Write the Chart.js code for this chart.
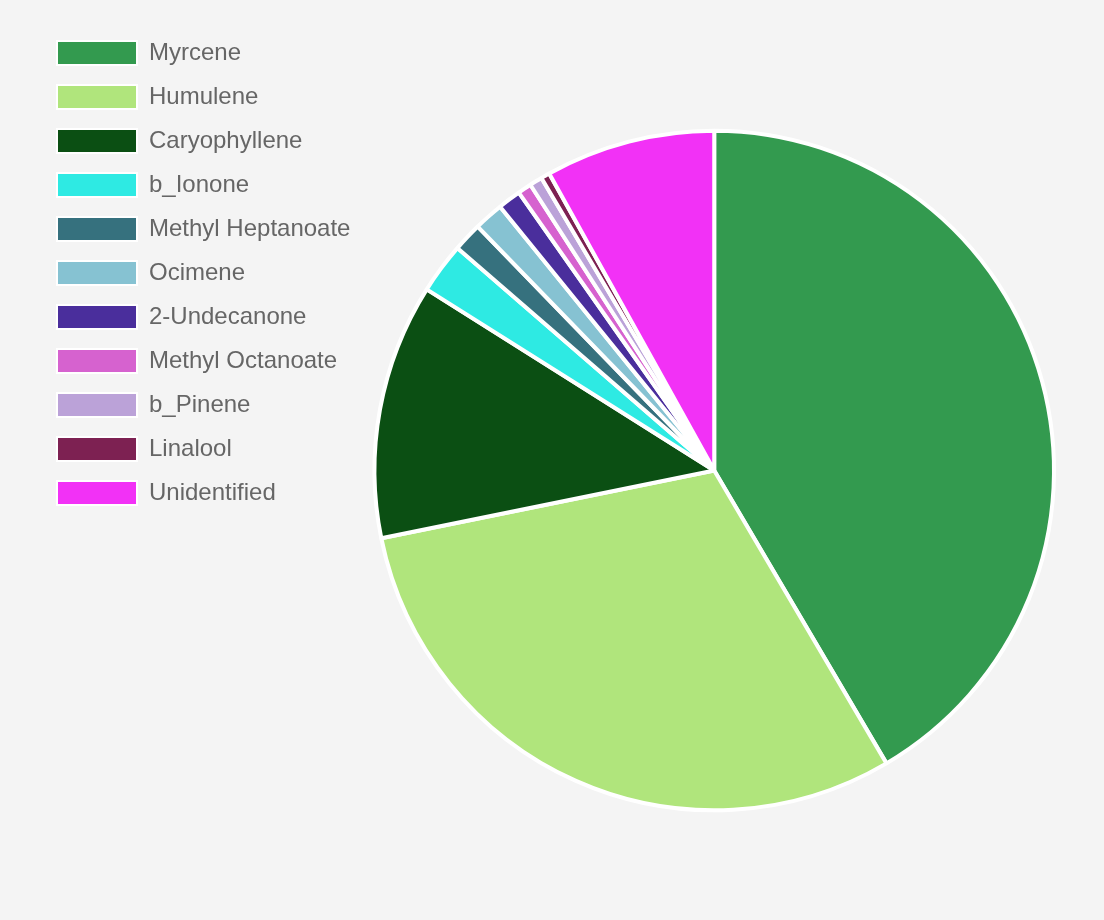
<!DOCTYPE html>
<html>
<head>
  <title>Terpene Profile</title>
  <style>
    body {
      margin: 0;
      padding: 0;
      background-color: #f4f4f4;
    }

    #container {
      width: 1104px;
      height: 920px;
    }
  </style>
</head>
<body>

<div id="container">
  <canvas id="myChart"></canvas>
</div>

<script src="https://cdn.jsdelivr.net/npm/chart.js@4"></script>
<script>
  // valores (percentual do total)
  const labels = ['Myrcene', 'Humulene', 'Caryophyllene', 'b_Ionone', 'Methyl Heptanoate', 'Ocimene',
                  '2-Undecanone', 'Methyl Octanoate', 'b_Pinene', 'Linalool', 'Unidentified'];
  const values = [41.53, 30.26, 12.14, 2.41, 1.39, 1.40, 1.10, 0.65, 0.61, 0.42, 8.07];
  const colors = ['#339a4f', '#b0e57c', '#0b4f13', '#2eeae3', '#36717e', '#86c2d2',
                  '#4a2e9c', '#d662cf', '#bba2d8', '#7d2152', '#f231f6'];

  const defaultLabels = Chart.overrides.pie.plugins.legend.labels.generateLabels;

  // alarga um pouco a legenda para empurrar a pizza para a direita
  const legendWidth = {
    id: 'legendWidth',
    afterInit(chart) {
      const legend = chart.legend;
      const fit = legend.fit;
      legend.fit = function () {
        fit.call(this);
        this.width += 12;
      };
    }
  };

  const ctx = document.getElementById('myChart').getContext('2d');
  const myChart = new Chart(ctx, {
    type: 'pie',
    data: {
      labels: labels,
      datasets: [{
        data: values,
        backgroundColor: colors,
        borderColor: '#fff',
        borderWidth: 4
      }]
    },
    options: {
      responsive: true,
      maintainAspectRatio: false,
      animation: false,
      layout: {
        padding: { left: 37, top: 21, right: 48, bottom: 0 }
      },
      plugins: {
        tooltip: { enabled: false },
        legend: {
          position: 'left',
          align: 'start',
          labels: {
            boxWidth: 80,
            boxHeight: 24,
            padding: 20,
            color: '#666',
            font: { family: '"Liberation Sans", Arial, sans-serif', size: 24 },
            generateLabels: function (chart) {
              // borda da caixa da legenda mais fina que a das fatias
              return defaultLabels(chart).map(function (item) {
                item.lineWidth = 2;
                return item;
              });
            }
          }
        }
      }
    },
    plugins: [legendWidth]
  });
</script>
</body>
</html>
